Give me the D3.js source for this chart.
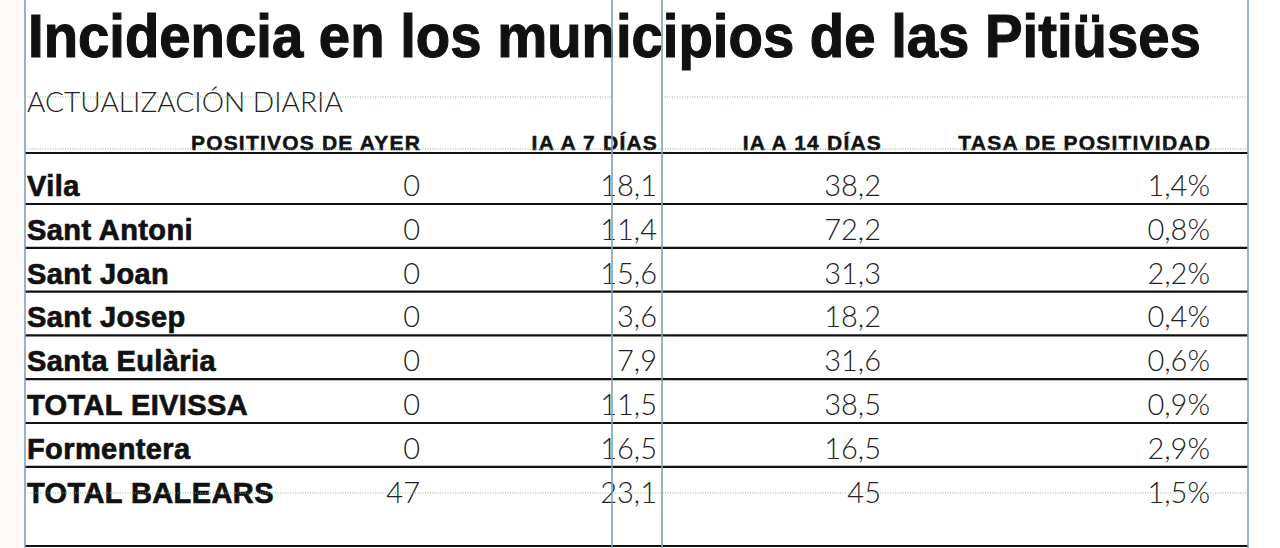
<!DOCTYPE html>
<html>
<head>
<meta charset="utf-8">
<script src="https://cdn.jsdelivr.net/npm/d3@7"></script>
<style>
  html, body { margin: 0; padding: 0; background: #fff; }
  svg { display: block; }
</style>
</head>
<body>
<svg id="chart" width="1280" height="548"></svg>
<script>
// table data
var municipios = ['Vila', 'Sant Antoni', 'Sant Joan', 'Sant Josep', 'Santa Eulària', 'TOTAL EIVISSA', 'Formentera', 'TOTAL BALEARS'];
var positivosAyer = ['0', '0', '0', '0', '0', '0', '0', '47'];
var ia7 = ['18,1', '11,4', '15,6', '3,6', '7,9', '11,5', '16,5', '23,1'];
var ia14 = ['38,2', '72,2', '31,3', '18,2', '31,6', '38,5', '16,5', '45'];
var tasaPositividad = ['1,4%', '0,8%', '2,2%', '0,4%', '0,6%', '0,9%', '2,9%', '1,5%'];

var columnas = ['POSITIVOS DE AYER', 'IA A 7 DÍAS', 'IA A 14 DÍAS', 'TASA DE POSITIVIDAD'];
var titulo = 'Incidencia en los municipios de las Pitiüses';
var subtitulo = 'ACTUALIZACIÓN DIARIA';

var svg = d3.select('#chart');
var left = 25, right = 1248;

// column right edges
var colScale = d3.scaleOrdinal()
  .domain(columnas)
  .range([420, 657, 881, 1210]);

var rowScale = d3.scaleBand()
  .domain(municipios)
  .range([160.2, 160.2 + 43.8 * municipios.length]);

// faint strip left of the frame
svg.append('rect')
  .attr('x', 0).attr('y', 0)
  .attr('width', left).attr('height', 548)
  .attr('fill', '#fdf9f6');

// title, squeezed horizontally to the frame width
var titleG = svg.append('g');
var titleText = titleG.append('text')
  .attr('x', 0)
  .attr('y', 0)
  .style('font-family', '"Liberation Sans Narrow", "Liberation Sans", sans-serif')
  .style('font-weight', 'bold')
  .style('font-size', '62px')
  .attr('fill', '#111')
  .attr('stroke', '#111')
  .attr('stroke-width', 1.2)
  .text(titulo);
var titleW = titleText.node().getComputedTextLength();
titleG.attr('transform', 'translate(28,57) scale(' + (1173 / titleW) + ',1)');

// subtitle
var subG = svg.append('g');
var subText = subG.append('text')
  .attr('x', 0)
  .attr('y', 0)
  .style('font-family', 'Lato, "Open Sans", sans-serif')
  .style('font-weight', 300)
  .style('font-size', '27px')
  .attr('fill', '#222')
  .text(subtitulo);
var subW = subText.node().getComputedTextLength();
subG.attr('transform', 'translate(27,112) scale(' + (316 / subW) + ',1)');

// header labels
svg.selectAll('text.head')
  .data(columnas)
  .enter()
  .append('text')
  .classed('head', true)
  .attr('x', d => colScale(d) + 1)
  .attr('y', 150)
  .attr('text-anchor', 'end')
  .style('font-family', '"Liberation Sans", sans-serif')
  .style('font-weight', 'bold')
  .style('font-size', '21px')
  .style('letter-spacing', '1.2px')
  .attr('fill', '#111')
  .attr('stroke', '#111')
  .attr('stroke-width', 0.5)
  .text(d => d);

// black rules
var rules = [153, 546].concat(municipios.slice(0, -1).map(d => rowScale(d) + rowScale.step()));
svg.selectAll('line.rule')
  .data(rules)
  .enter()
  .append('line')
  .classed('rule', true)
  .attr('x1', left).attr('x2', right)
  .attr('y1', d => d).attr('y2', d => d)
  .style('stroke', '#111')
  .style('stroke-width', 2.2);

// row labels
svg.selectAll('text.row')
  .data(municipios)
  .enter()
  .append('text')
  .classed('row', true)
  .attr('x', 27)
  .attr('y', d => rowScale(d) + rowScale.step() - 8)
  .style('font-family', '"Liberation Sans", sans-serif')
  .style('font-weight', 'bold')
  .style('font-size', '29px')
  .style('letter-spacing', '0.4px')
  .attr('fill', '#111')
  .attr('stroke', '#111')
  .attr('stroke-width', 0.7)
  .text(d => d);

// values
var series = [positivosAyer, ia7, ia14, tasaPositividad];
series.forEach(function (vals, c) {
  svg.selectAll('text.val' + c)
    .data(vals)
    .enter()
    .append('text')
    .classed('val' + c, true)
    .attr('x', colScale(columnas[c]))
    .attr('y', (d, i) => rowScale(municipios[i]) + rowScale.step() - 8)
    .attr('text-anchor', 'end')
    .style('font-family', 'Lato, "Open Sans", sans-serif')
    .style('font-weight', 300)
    .style('font-size', '29px')
    .attr('fill', '#222')
    .text(d => d);
});

// layout guides (green dotted)
var guideH = [
  [left, 612, 97], [662, right, 97],
  [left, right, 149],
  [left, right, 493]
];
svg.selectAll('line.guideh')
  .data(guideH)
  .enter()
  .append('line')
  .attr('x1', d => d[0]).attr('x2', d => d[1])
  .attr('y1', d => d[2]).attr('y2', d => d[2])
  .style('stroke', '#86b98a')
  .style('stroke-width', 1)
  .style('stroke-dasharray', '1,1.5');

// layout guides (blue)
svg.selectAll('line.guidev')
  .data([left, 612, 662, right])
  .enter()
  .append('line')
  .attr('x1', d => d).attr('x2', d => d)
  .attr('y1', 0).attr('y2', 548)
  .style('stroke', '#7f9fc4')
  .style('stroke-width', 1.6);
</script>
</body>
</html>
